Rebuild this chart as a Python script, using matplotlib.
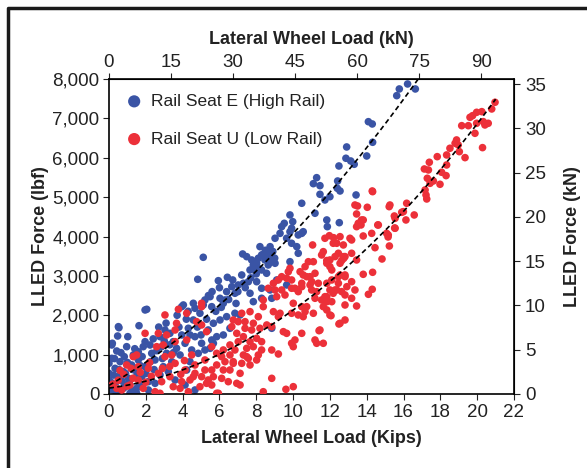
import numpy as np
import matplotlib
matplotlib.use("Agg")
import matplotlib.pyplot as plt
from matplotlib.lines import Line2D

plt.rcParams['font.family'] = ['Liberation Sans', 'DejaVu Sans']

# lateral wheel load (kips) and LLED force (lbf), rail seat E (high rail)
high_x = [16.22, 15.77, 15.63, 16.64, 14.09, 14.30, 14.32, 12.91, 14.0, 12.87, 13.13, 13.32, 12.49, 11.28, 11.10,
          11.46, 12.42, 12.40, 12.55, 11.46, 12.0, 11.73, 13.42, 10.47, 9.83, 11.19, 11.83, 12.51, 11.86, 10.55,
          9.92, 10.28, 9.98, 9.52, 9.38, 9.83, 9.29, 9.02, 9.65, 10.47, 9.92, 10.2, 10.28, 8.75, 8.65,
          8.5, 8.8, 8.9, 8.6, 8.4, 8.7, 9.0, 8.29, 8.11, 8.02, 8.47, 8.65, 8.11, 8.29, 8.56,
          9.11, 8.02, 8.29, 8.75, 9.65, 8.84, 8.29, 9.02, 5.12, 4.82, 5.94, 6.43, 6.72, 7.26, 7.48,
          7.75, 7.84, 7.66, 7.93, 8.2, 7.21, 6.67, 7.02, 6.39, 6.84, 7.30, 7.57, 6.03, 6.3, 5.49,
          5.21, 4.04, 4.58, 7.66, 2.05, 0.54, 1.63, 0.47, 1.02, 0.18, 0.96, 0.42, 0.83, 0.15, 0.0,
          0.0, 0.0, 0.15, 0.22, 0.51, 0.33, 1.23, 1.59, 1.32, 1.59, 1.86, 1.96, 2.23, 2.32, 2.50,
          1.96, 1.50, 1.78, 2.14, 1.05, 0.87, 1.50, 2.14, 2.5, 2.77, 2.95, 3.22, 3.41, 3.13, 2.86,
          2.77, 3.04, 3.31, 3.49, 3.67, 3.86, 4.13, 3.95, 4.31, 4.58, 4.94, 4.67, 3.95, 5.12, 5.58,
          4.67, 5.03, 4.49, 4.85, 5.21, 5.58, 5.39, 4.40, 4.22, 3.59, 4.13, 4.67, 0.6, 1.14, 1.5,
          0.6, 0.78, 0.51, 1.96, 0.15, 6.21, 7.84, 6.84, 7.12, 6.39, 5.67, 6.03, 6.57, 8.84, 5.85,
          6.21, 5.67, 5.49, 9.83, 0.1, 0.25, 0.35, 0.55, 0.7, 0.9, 1.1, 1.3, 1.45, 1.7,
          0.05, 0.4, 0.8, 1.25, 1.65, 2.0, 2.25, 2.45, 0.3, 0.65, 1.0, 1.4, 1.8, 2.6, 2.9,
          3.3, 3.5, 3.8, 4.2, 4.4, 3.1, 2.7, 3.7, 4.8, 5.3, 5.0, 5.8, 6.1, 6.5, 6.9,
          7.0, 7.4, 7.7, 8.0, 5.6, 6.0, 5.4, 4.3, 3.0, 2.4]
high_y = [7874, 7747, 7577, 7747, 6916, 6858, 6393, 6274, 6045, 5987, 5918, 5834, 5791, 5494, 5342,
          5291, 5410, 5225, 5156, 5072, 5011, 4928, 5055, 4844, 4547, 4590, 4420, 4351, 4250, 4122,
          4209, 4039, 4377, 4335, 4250, 4122, 4080, 3955, 3955, 4080, 3828, 3742, 3574, 3742, 3574,
          3650, 3500, 3620, 3420, 3560, 3350, 3450, 3531, 3447, 3320, 3404, 3277, 3193, 3150, 3066,
          2896, 2852, 2685, 2642, 2769, 2431, 2431, 3320, 3472, 2913, 2878, 2964, 2896, 3556, 3488,
          3404, 3277, 3150, 3150, 3742, 3023, 2726, 2769, 2599, 2558, 2812, 2852, 2431, 2388, 2472,
          2388, 2261, 2304, 2558, 2151, 1684, 1735, 1473, 1456, 1288, 1202, 1092, 948, 906, 779,
          525, 355, 271, 102, 440, 652, 737, 864, 991, 1075, 1202, 1329, 1245, 1033, 864,
          694, 567, 440, 313, 398, 229, 144, 102, 271, 483, 694, 567, 821, 1033, 1202,
          1456, 1626, 1541, 1329, 1160, 991, 1288, 1499, 1669, 1880, 2050, 2177, 2218, 2261, 2218,
          1456, 1288, 1118, 1033, 1118, 1372, 1626, 821, 610, 356, 229, 102, 18, 18, 18,
          821, 567, 1710, 2134, 1245, 2304, 2345, 2050, 2007, 1964, 1796, 1880, 1669, 1669, 1456,
          1499, 1288, 1160, 3360, 300, 480, 200, 620, 330, 520, 300, 620, 420, 720,
          120, 60, 150, 80, 250, 520, 820, 620, 900, 1050, 800, 1150, 950, 1100, 900,
          1250, 1050, 1700, 1900, 1500, 1800, 1700, 2000, 1700, 1900, 1500, 2100, 2200, 2400, 2300,
          2600, 2700, 2950, 3050, 2600, 2700, 2500, 2100, 1350, 1400]

# rail seat U (low rail)
low_x = [20.97, 20.79, 20.25, 19.97, 19.75, 19.61, 20.33, 20.60, 19.97, 19.52, 19.16, 20.42, 19.88, 18.88, 18.97,
         18.80, 18.52, 20.29, 19.34, 19.03, 18.34, 17.83, 17.40, 18.34, 17.13, 17.35, 18.07, 18.31, 17.29, 17.62,
         17.98, 17.44, 17.17, 17.22, 17.26, 16.17, 14.30, 13.36, 15.26, 13.50, 14.03, 13.45, 13.72, 13.54, 13.45,
         15.22, 14.27, 14.63, 15.08, 15.54, 15.99, 16.13, 16.58, 15.54, 15.17, 11.73, 12.55, 12.2, 14.32, 15.90,
         15.50, 13.81, 13.69, 14.60, 15.52, 13.81, 15.16, 15.23, 14.45, 14.83, 14.32, 13.81, 14.30, 14.09, 11.06,
         11.97, 13.09, 12.37, 12.73, 11.64, 11.55, 12.0, 11.83, 12.10, 12.55, 12.73, 13.18, 13.45, 10.83, 11.1,
         10.38, 10.55, 10.92, 11.19, 9.92, 10.10, 10.47, 10.92, 11.28, 12.55, 12.82, 13.18, 12.46, 12.37, 12.82,
         12.18, 11.83, 11.55, 12.10, 11.64, 11.83, 12.0, 12.82, 13.36, 13.18, 10.47, 10.74, 10.01, 9.92, 10.65,
         10.55, 11.1, 12.55, 12.82, 10.47, 11.19, 11.46, 11.28, 11.64, 10.10, 10.01, 9.92, 10.01, 13.45, 12.06,
         12.49, 11.41, 12.18, 13.18, 12.28, 12.75, 12.46, 12.82, 11.83, 12.0, 12.64, 10.65, 9.83, 9.74, 9.38,
         9.65, 9.20, 10.74, 11.01, 11.37, 11.83, 12.10, 12.46, 12.82, 12.92, 12.64, 12.28, 8.93, 8.65, 9.02,
         9.38, 9.56, 9.92, 9.11, 10.28, 11.19, 11.73, 11.83, 8.38, 12.0, 11.01, 10.47, 8.38, 8.93, 9.20,
         9.29, 10.28, 7.66, 7.21, 8.11, 6.75, 7.02, 7.39, 7.84, 8.57, 8.84, 6.67, 7.39, 8.2, 7.75,
         9.47, 9.65, 6.94, 7.30, 8.02, 8.29, 7.66, 7.02, 6.57, 7.84, 7.48, 8.29, 8.84, 6.84, 6.21,
         5.85, 6.12, 6.57, 7.30, 8.11, 7.57, 8.02, 9.20, 6.30, 6.75, 7.21, 7.66, 5.85, 6.57, 6.21,
         7.12, 5.58, 5.67, 6.12, 6.48, 6.94, 8.84, 9.61, 8.38, 5.85, 5.58, 1.96, 2.68, 3.13, 3.67,
         3.77, 5.03, 4.76, 0.42, 0.69, 1.14, 1.59, 1.59, 2.14, 1.50, 2.95, 3.04, 3.41, 3.59, 2.68,
         2.86, 3.31, 3.49, 2.5, 2.77, 1.86, 3.86, 4.31, 4.40, 4.67, 5.03, 5.39, 4.94, 5.21, 4.13,
         4.67, 5.21, 4.49, 3.59, 3.04, 4.22, 5.03, 5.30, 5.58, 0.96, 1.32, 2.59, 5.94, 3.95, 7.12,
         7.48, 6.75, 3.59, 4.22, 4.58, 5.30, 5.03, 0.2, 0.5, 0.8, 1.0, 1.3, 1.7, 2.0, 2.3,
         2.2, 1.2, 0.6, 2.9, 3.9, 4.1, 3.3]
low_y = [7409, 7239, 7171, 7154, 7069, 7027, 6917, 6875, 6875, 6815, 6815, 6833, 6621, 6452, 6325,
         6367, 6241, 6257, 6003, 6155, 6071, 6028, 5885, 5817, 5715, 5690, 5631, 5546, 5479, 5410,
         5326, 5351, 5182, 5055, 4953, 4844, 5156, 4800, 4800, 4775, 4742, 4572, 4420, 4335, 4250,
         4758, 4080, 4293, 4080, 4462, 4631, 4420, 4547, 4209, 4039, 3955, 3996, 3970, 5139, 4615,
         4521, 4420, 4293, 4293, 4216, 4013, 3988, 3759, 3716, 3429, 3091, 3040, 2659, 2532, 3785,
         4021, 3955, 3828, 3785, 3615, 3531, 3404, 3320, 3150, 3320, 3488, 3574, 3404, 3360, 3360,
         3106, 3023, 2979, 3066, 2896, 2685, 2726, 2769, 2599, 3023, 2979, 2852, 2812, 2642, 2515,
         2558, 2472, 2388, 2345, 2218, 2134, 2007, 2261, 2642, 2431, 2218, 2218, 2304, 2050, 2091,
         1964, 2050, 1796, 1880, 1541, 1372, 1626, 1288, 1288, 1372, 1202, 1288, 186, 2235, 1989,
         1778, 1608, 3828, 3912, 3490, 3445, 3574, 3490, 3390, 3234, 3390, 3234, 3193, 3106, 2979,
         2939, 2896, 2979, 2852, 2812, 2812, 2896, 2979, 3023, 2726, 2600, 2642, 2812, 2685, 2642,
         2642, 2515, 2685, 2472, 2600, 2431, 2472, 2345, 2388, 2642, 2642, 2812, 2218, 2091, 1964,
         2050, 2007, 2091, 2050, 1964, 1880, 1837, 1837, 1796, 1753, 1710, 1710, 1669, 1669, 1626,
         1583, 1541, 1541, 1456, 1414, 1329, 1329, 1329, 1245, 1202, 1160, 1118, 1118, 1118, 1118,
         1033, 948, 991, 991, 991, 906, 864, 1016, 821, 821, 779, 737, 737, 610, 610,
         525, 610, 440, 398, 313, 271, 398, 119, 58, 18, 229, 1541, 1541, 1499, 1796,
         2151, 2304, 1837, 144, 102, 229, 356, 694, 652, 991, 1245, 948, 991, 779, 525,
         313, 440, 186, 58, 18, 144, 144, 58, 356, 525, 440, 356, 186, 610, 610,
         737, 864, 991, 1329, 2007, 2050, 1753, 1583, 1202, 737, 948, 1202, 18, 313, 229,
         948, 779, 1626, 1372, 440, 271, 2218, 250, 350, 500, 200, 400, 550, 300, 450,
         800, 650, 600, 650, 500, 850, 700]

# quadratic trend lines: a + b*x + c*x^2 (lbf vs kips)
high_fit = [220, 271.7, 11.4]
high_fit_end = 16.85
low_fit = [150, 60.8, 13.74]
low_fit_end = 21.0

blue = '#3a54a5'
red = '#ec3039'
KIPS_TO_KN = 4.44822
LBF_TO_KN = 0.00444822
ink = '#222222'

fig = plt.figure(figsize=(5.87, 4.68), dpi=100)
ax = fig.add_axes([109 / 587, 74 / 468, 405 / 587, 315 / 468])

ax.scatter(high_x, high_y, s=30, color=blue, edgecolors='none', label='Rail Seat E (High Rail)', zorder=2)
ax.scatter(low_x, low_y, s=30, color=red, edgecolors='none', label='Rail Seat U (Low Rail)', zorder=3)

xs = np.linspace(0, high_fit_end, 100)
ax.plot(xs, high_fit[0] + high_fit[1] * xs + high_fit[2] * xs ** 2, color='black', lw=1.2,
        dashes=(3, 2), zorder=4)
xs = np.linspace(0, low_fit_end, 100)
ax.plot(xs, low_fit[0] + low_fit[1] * xs + low_fit[2] * xs ** 2, color='black', lw=1.2,
        dashes=(3, 2), zorder=4)

ax.set_xlim(0, 22)
ax.set_ylim(0, 8000)
ax.set_xticks(np.arange(0, 23, 2))
ax.set_yticks(np.arange(0, 8001, 1000))
ax.yaxis.set_major_formatter(matplotlib.ticker.StrMethodFormatter('{x:,.0f}'))
ax.tick_params(labelsize=13.5, length=4, width=0.8, pad=3, colors=ink)
for sp in ax.spines.values():
    sp.set_linewidth(1.2)

ax.set_xlabel('Lateral Wheel Load (Kips)', fontsize=13, fontweight='bold', labelpad=7, color=ink)
ax.set_ylabel('LLED Force (lbf)', fontsize=13, fontweight='bold', labelpad=2, color=ink)

top = ax.secondary_xaxis('top', functions=(lambda v: v * KIPS_TO_KN, lambda v: v / KIPS_TO_KN))
top.set_xticks(np.arange(0, 91, 15))
top.tick_params(labelsize=13.5, length=4, width=0.8, pad=2, colors=ink)
top.set_xlabel('Lateral Wheel Load (kN)', fontsize=13, fontweight='bold', labelpad=7, color=ink)

right = ax.secondary_yaxis('right', functions=(lambda v: v * LBF_TO_KN, lambda v: v / LBF_TO_KN))
right.set_yticks(np.arange(0, 36, 5))
right.tick_params(labelsize=13.5, length=4, width=0.8, pad=4, colors=ink)
right.set_ylabel('LLED Force (kN)', fontsize=13, fontweight='bold', labelpad=13, color=ink)

leg = ax.legend(loc='upper left', frameon=False, fontsize=12.5, markerscale=1.6,
                handletextpad=0.35, labelspacing=1.3, borderaxespad=0.45, handlelength=1.2)
for t in leg.get_texts():
    t.set_color(ink)

# outer frame (only top and left edges visible in the crop)
fig.add_artist(Line2D([8 / 587, 8 / 587, 1], [0, 1 - 8 / 468, 1 - 8 / 468],
                      transform=fig.transFigure, color='#1a1a1a', lw=2.5))

fig.savefig('out.png', dpi=100)
